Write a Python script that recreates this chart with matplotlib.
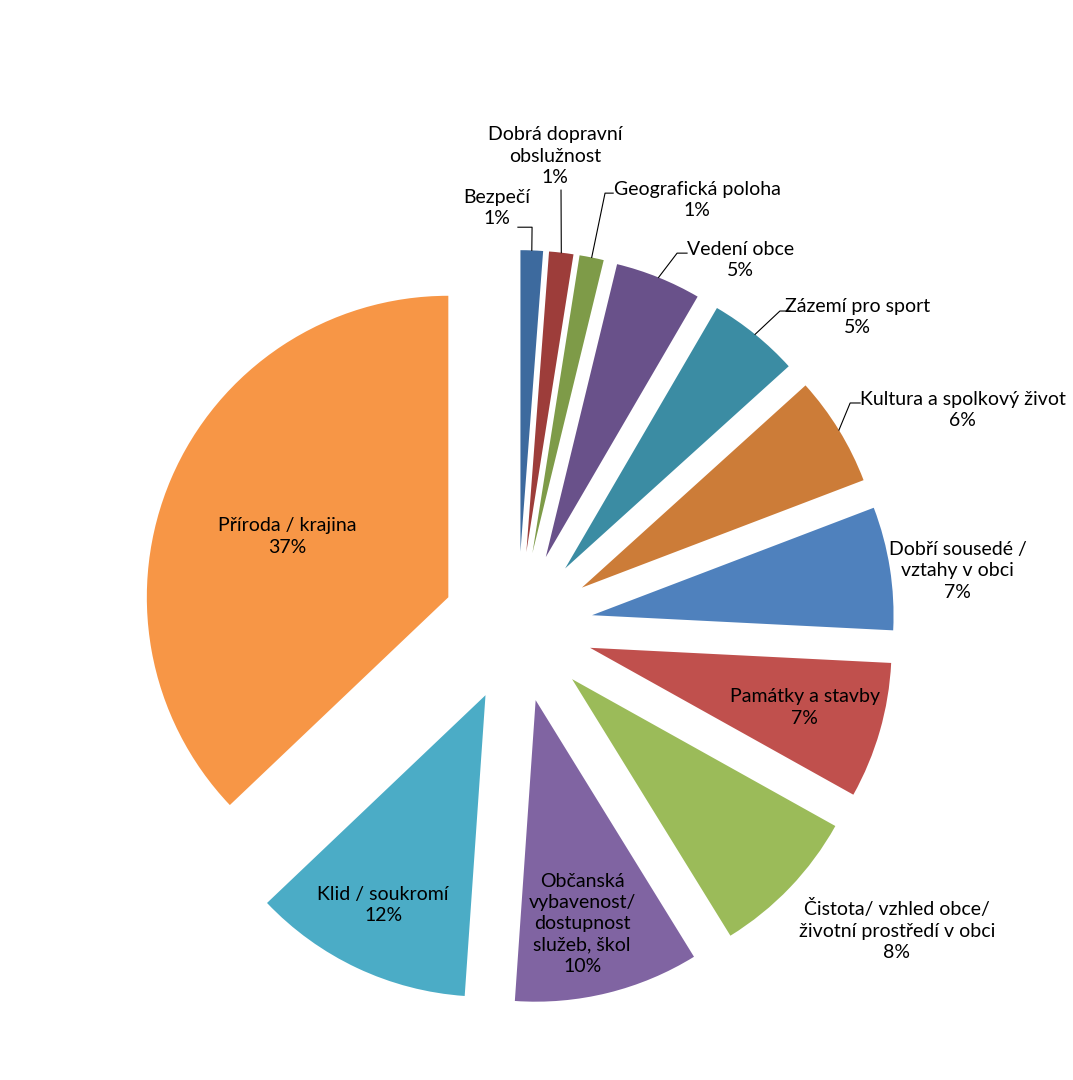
import numpy as np
import matplotlib.pyplot as plt

# slices, clockwise from 12 o'clock
labels = ['Bezpečí', 'Dobrá dopravní\nobslužnost', 'Geografická poloha', 'Vedení obce',
          'Zázemí pro sport', 'Kultura a spolkový život', 'Dobří sousedé /\nvztahy v obci',
          'Památky a stavby', 'Čistota/ vzhled obce/\nživotní prostředí v obci',
          'Občanská\nvybavenost/\ndostupnost\nslužeb, škol', 'Klid / soukromí', 'Příroda / krajina']
values = [1.2, 1.3, 1.3, 4.6, 4.9, 5.9, 6.6, 7.3, 8.1, 9.9, 11.8, 37.1]
colors = ['#3D6A9E', '#9D3D3A', '#7E9B48', '#69518A', '#3B8CA3', '#CC7C38',
          '#4F81BD', '#C0504D', '#9BBB59', '#8064A2', '#4BACC6', '#F79646']

# label centres (data units, pie radius = 1)
label_pos = [(-0.068, 1.391), (0.124, 1.562), (0.595, 1.415), (0.738, 1.217),
             (1.126, 1.027), (1.477, 0.720), (1.459, 0.186), (0.953, -0.267),
             (1.258, -1.005), (0.214, -0.985), (-0.446, -0.922), (-0.765, 0.300)]
# leader lines: start near the label, elbow, then to slice edge (None = no leader)
leaders = [((0.001, 1.326), (0.048, 1.326)), ((0.144, 1.449), (0.144, 1.449)),
           ((0.317, 1.439), (0.290, 1.439)), ((0.562, 1.240), (0.529, 1.240)),
           ((0.904, 1.048), (0.870, 1.048)), ((1.136, 0.743), (1.103, 0.743)),
           None, None, None, None, None, None]

explode_frac = 0.25

fig = plt.figure(figsize=(10.73, 10.8), dpi=100)
ax = fig.add_axes([0, 0, 1, 1])

wedges, _ = ax.pie(values, colors=colors, startangle=90, counterclock=False,
                   explode=[explode_frac] * len(values), radius=1,
                   wedgeprops=dict(linewidth=0))

total = sum(values)
for i, w in enumerate(wedges):
    pct = round(values[i] / total * 100)
    x, y = label_pos[i]
    ax.text(x, y, f'{labels[i]}\n{pct}%', ha='center', va='center',
            fontsize=14, family=['Lato', 'DejaVu Sans'], color='black', linespacing=1.3)
    if leaders[i] is not None:
        mid = np.deg2rad((w.theta1 + w.theta2) / 2)
        cx, cy = w.center
        ex, ey = cx + np.cos(mid), cy + np.sin(mid)
        (sx, sy), (kx, ky) = leaders[i]
        ax.plot([sx, kx, ex], [sy, ky, ey], color='black', lw=0.8)

# pie centre at (517.6, 627) px, radius 301.5 px
unit = 301.5
ax.set_xlim(-517.6 / unit, 555.4 / unit)
ax.set_ylim(-453 / unit, 627 / unit)
ax.set_aspect('equal')
ax.axis('off')

plt.savefig('out.png', dpi=100)
